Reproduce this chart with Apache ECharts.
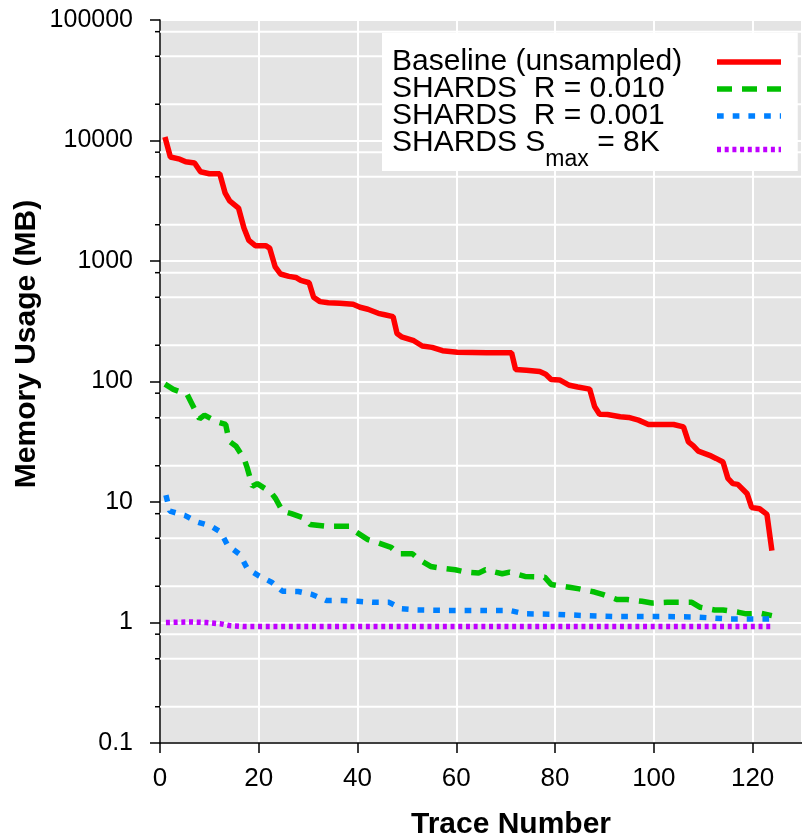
<!DOCTYPE html>
<html lang="en">
<head>
    <meta charset="UTF-8">
    <title>Memory Usage</title>
    <script src="https://cdn.jsdelivr.net/npm/echarts@6/dist/echarts.min.js"></script>
    <style>
        html, body { margin: 0; padding: 0; background: #fff; }
    </style>
</head>
<body>
    <div id="main" style="width: 802px;height: 839px"></div>
    <script type="text/javascript">
        // series names (legend order)
        var seriesNames = ['Baseline (unsampled)', 'SHARDS  R = 0.010', 'SHARDS  R = 0.001', 'SHARDS Smax = 8K'];
        var seriesColors = ['#ff0000', '#00c000', '#0080ff', '#c000ff'];

        // [trace number, MB]
        var baselineData = [
            [1, 10700], [2.1, 7300], [4, 7000], [5.2, 6650], [7, 6500], [8.2, 5500], [10, 5300], [12.1, 5300],
            [13.2, 3650], [14.1, 3150], [15.9, 2750], [17, 1880], [18, 1480], [19.3, 1340], [21.4, 1340], [22.2, 1280],
            [23.3, 900], [24.4, 780], [26.1, 745], [27.5, 730], [28.5, 690], [30.2, 660], [31.1, 500], [32.4, 460],
            [34.1, 450], [36.4, 446], [39.1, 437], [40.5, 413], [42.1, 398], [44.2, 368], [45.5, 358], [47.2, 345],
            [48, 250], [48.9, 235], [51.4, 218], [53.1, 197], [55.1, 192], [57.2, 180], [60.2, 175], [66.2, 173],
            [71.2, 173], [72, 126], [74.2, 124], [76.9, 121], [78.1, 115], [79.2, 104], [80.9, 103], [82.9, 93],
            [84.6, 90], [87, 86.5], [88, 62], [89, 53.6], [90.6, 53.3], [93.2, 51], [94.9, 50.3], [96.9, 47.8],
            [98.9, 44], [102.3, 44], [104, 44], [106, 42], [107, 31.5], [108, 29.2], [109, 26.4], [111.3, 24.4],
            [112.6, 23], [114, 21.5], [115, 15.7], [116, 14.2], [117, 14], [118.9, 11.7], [119.8, 9], [121.4, 8.8],
            [122.9, 7.9], [123.9, 3.95]
        ];
        var r010Data = [
            [1, 95], [2.7, 86], [5.5, 78], [6.4, 66], [8, 49], [9, 52.6], [11.7, 46], [13.3, 44],
            [14, 32], [15.4, 29], [17, 23], [17.7, 19], [18.7, 13.5], [19.7, 14.2], [22.4, 12.1], [23.4, 10.7],
            [24.8, 8.4], [26.6, 8.0], [29, 7.4], [30.4, 6.5], [33.4, 6.3], [38.4, 6.3], [39.8, 5.6], [42.1, 4.87],
            [44.2, 4.57], [46.8, 4.2], [48.2, 3.72], [51.1, 3.72], [52.5, 3.32], [54.8, 2.92], [56.8, 2.83], [59.8, 2.74],
            [61.9, 2.62], [64.5, 2.57], [65.9, 2.74], [69.3, 2.54], [70.8, 2.62], [73.9, 2.41], [75.9, 2.4], [77.9, 2.38],
            [79.2, 2.07], [82.9, 1.96], [84.9, 1.9], [88, 1.79], [89.6, 1.71], [92.6, 1.55], [94.6, 1.55], [97.6, 1.5],
            [99.6, 1.45], [102.7, 1.47], [104.7, 1.47], [107.7, 1.47], [109.3, 1.34], [112.3, 1.27], [114, 1.27], [117, 1.22],
            [118.7, 1.18], [121.7, 1.19], [123.9, 1.14]
        ];
        var r001Data = [
            [1.2, 11.4], [2, 8.4], [5, 7.75], [7.7, 6.8], [10.3, 6.3], [12.3, 5.63], [13.7, 4.37], [16.2, 3.66],
            [17.7, 2.79], [20.1, 2.43], [22.6, 2.16], [24.8, 1.82], [28, 1.81], [30.8, 1.71], [33.7, 1.52], [36.8, 1.52],
            [40, 1.5], [43.1, 1.47], [46.4, 1.47], [48.9, 1.3], [52.1, 1.27], [58.2, 1.26], [64.9, 1.26], [70.8, 1.26],
            [73.9, 1.18], [80.2, 1.17], [86.3, 1.14], [92.9, 1.12], [102.3, 1.12], [108.7, 1.11], [115, 1.07], [121, 1.07],
            [123.9, 1.07]
        ];
        var smaxData = [
            [1.2, 1.0], [6, 1.01], [9.4, 1.0], [12.3, 0.975], [14, 0.944], [17, 0.926], [60, 0.926], [123.9, 0.926]
        ];

        var yTickLabels = ['0.1', '1', '10', '100', '1000', '10000', '100000'];
        // extra grid lines / small ticks between decades
        var yMinorGrid = [0.2, 0.5, 0.8, 2, 5, 8, 20, 50, 80, 200, 500, 800, 2000, 5000, 8000, 20000, 50000, 80000];

        var dashes = ['solid', [15, 10], [6.7, 9], [4, 3.7]];
        var allData = [baselineData, r010Data, r001Data, smaxData];

        var font = '"Liberation Sans", Arial, Helvetica, sans-serif';
        var myChart = echarts.init(document.getElementById('main'));

        var series = allData.map(function (d, i) {
            return {
                name: seriesNames[i],
                type: 'line',
                data: d,
                symbol: 'none',
                showSymbol: false,
                z: 3,
                lineStyle: {
                    color: seriesColors[i],
                    width: 5.5,
                    type: dashes[i],
                    cap: 'butt'
                },
                itemStyle: { color: seriesColors[i] }
            };
        });
        // minor grid lines and ticks
        series.push({
            type: 'custom',
            silent: true,
            z: 1,
            clip: false,
            data: yMinorGrid.map(function (v) { return [0, v]; }),
            renderItem: function (params, api) {
                var cs = params.coordSys;
                var y = api.coord([0, api.value(1)])[1];
                return {
                    type: 'group',
                    children: [
                        { type: 'line', shape: { x1: cs.x, y1: y, x2: cs.x + cs.width, y2: y }, style: { stroke: '#fff', lineWidth: 2 } },
                        { type: 'line', shape: { x1: cs.x - 5, y1: y, x2: cs.x, y2: y }, style: { stroke: '#000', lineWidth: 1.5 } }
                    ]
                };
            }
        });

        myChart.setOption({
            animation: false,
            backgroundColor: '#fff',
            grid: {
                left: 160,
                top: 20,
                right: -6,
                bottom: 96,
                show: true,
                backgroundColor: '#e4e4e4',
                borderWidth: 0
            },
            legend: {
                data: seriesNames,
                orient: 'vertical',
                left: 382,
                top: 33,
                align: 'right',
                backgroundColor: '#fff',
                padding: [14, 14, 0, 10],
                itemGap: -3,
                itemWidth: 64,
                itemHeight: 14,
                selectedMode: false,
                itemStyle: { color: 'rgba(0,0,0,0)', borderWidth: 0 },
                lineStyle: { width: 'inherit' },
                formatter: function (name) {
                    if (name === seriesNames[3]) {
                        return '{m|SHARDS S}{sub|max}{m| = 8K}';
                    }
                    return '{t|' + name + '}';
                },
                textStyle: {
                    width: 320,
                    color: '#000',
                    rich: {
                        t: { fontSize: 30, fontFamily: font, color: '#000', align: 'left' },
                        m: { fontSize: 30, fontFamily: font, color: '#000', align: 'left', verticalAlign: 'top' },
                        sub: { fontSize: 23, padding: [20, 0, 0, 0], fontFamily: font, color: '#000', align: 'left', verticalAlign: 'top' }
                    }
                }
            },
            xAxis: {
                type: 'value',
                min: 0,
                max: 130,
                interval: 20,
                axisLine: { lineStyle: { color: '#000', width: 1.5 } },
                axisTick: { length: 10, lineStyle: { color: '#000', width: 1.5 } },
                axisLabel: {
                    showMaxLabel: false,
                    margin: 23,
                    fontSize: 26,
                    fontFamily: font,
                    color: '#000'
                },
                splitLine: { show: true, lineStyle: { color: '#fff', width: 2 } }
            },
            yAxis: {
                type: 'log',
                logBase: 10,
                min: 0.1,
                max: 100000,
                splitNumber: 6,
                axisLine: { show: true, lineStyle: { color: '#000', width: 1.5 } },
                axisTick: { show: true, length: 10, lineStyle: { color: '#000', width: 1.5 } },
                axisLabel: {
                    margin: 27,
                    fontSize: 25,
                    fontFamily: font,
                    color: '#000',
                    formatter: function (v) {
                        return yTickLabels[Math.round(Math.log10(v)) + 1];
                    }
                },
                splitLine: { show: true, lineStyle: { color: '#fff', width: 2 } }
            },
            graphic: [
                {
                    type: 'text',
                    x: 27,
                    y: 344,
                    rotation: Math.PI / 2,
                    style: {
                        text: 'Memory Usage (MB)',
                        fontSize: 30,
                        fontWeight: 'bold',
                        fontFamily: font,
                        fill: '#000',
                        align: 'center',
                        verticalAlign: 'middle'
                    }
                },
                {
                    type: 'text',
                    x: 511,
                    y: 825,
                    style: {
                        text: 'Trace Number',
                        fontSize: 30,
                        fontWeight: 'bold',
                        fontFamily: font,
                        fill: '#000',
                        align: 'center',
                        verticalAlign: 'middle'
                    }
                }
            ],
            series: series
        });
    </script>
</body>
</html>
